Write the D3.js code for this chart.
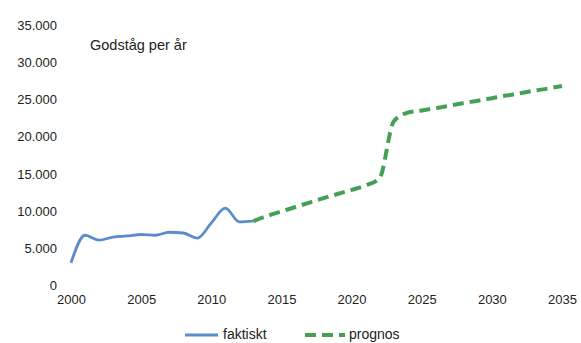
<!DOCTYPE html>
<html><head><meta charset="utf-8">
<script src="https://cdn.jsdelivr.net/npm/d3@7"></script>
<style>
html,body{margin:0;padding:0;background:#fff;}
svg text{font-family:"Liberation Sans",Arial,sans-serif;fill:#222;}
</style></head>
<body><svg id="c" width="581" height="343"></svg>
<script>
const title = "Godståg per år";
const actualYears = [2000,2001,2002,2003,2004,2005,2006,2007,2008,2009,2010,2011,2012,2013];
const actualValues = [3000,6700,6050,6450,6600,6800,6700,7100,7000,6300,8350,10350,8500,8600];
const forecastYears = [2013,2014,2015,2016,2017,2018,2019,2020,2021,2022,2023,2024,2025,2026,2027,2028,2029,2030,2031,2032,2033,2034,2035];
const forecastValues = [8600,9300,9900,10500,11100,11700,12250,12800,13400,14400,22000,23200,23500,23800,24150,24500,24800,25150,25500,25800,26150,26450,26800];
const yTicks = [0,5000,10000,15000,20000,25000,30000,35000];
const xTicks = [2000,2005,2010,2015,2020,2025,2030,2035];
const seriesNames = ["faktiskt","prognos"];
const colors = ["#5a8ccc","#44a055"];

const svg = d3.select("#c");
const x = d3.scaleLinear().domain([2000,2035]).range([71,562]);
const y = d3.scaleLinear().domain([0,35000]).range([285,25]);
const fmt = v => v===0 ? "0" : d3.format(",")(v).replace(/,/g,".");

const yAxis = svg.append("g").attr("transform","translate(57,0)")
  .call(d3.axisLeft(y).tickValues(yTicks).tickSize(0).tickPadding(0).tickFormat(fmt));
yAxis.select(".domain").remove();
yAxis.selectAll("text").attr("font-size","13px").attr("dy","0.35em");

const xAxis = svg.append("g").attr("transform","translate(0,295)")
  .call(d3.axisBottom(x).tickValues(xTicks).tickSize(0).tickPadding(0).tickFormat(d3.format("d")));
xAxis.select(".domain").remove();
xAxis.selectAll("text").attr("font-size","13px").attr("dy","0.71em");

svg.append("text").attr("x",90).attr("y",50).attr("font-size","14.5px").text(title);

const line = d3.line().x(d=>x(d[0])).y(d=>y(d[1])).curve(d3.curveMonotoneX);
svg.append("path").datum(d3.zip(actualYears,actualValues))
  .attr("d",line).attr("fill","none").attr("stroke",colors[0]).attr("stroke-width",2.8)
  .attr("stroke-linejoin","round");
svg.append("path").datum(d3.zip(forecastYears,forecastValues))
  .attr("d",line).attr("fill","none").attr("stroke",colors[1]).attr("stroke-width",4)
  .attr("stroke-dasharray","11,6");

// legend
const lg = svg.append("g");
lg.append("line").attr("x1",185).attr("x2",218).attr("y1",335).attr("y2",335)
  .attr("stroke",colors[0]).attr("stroke-width",2.8);
lg.append("text").attr("x",223).attr("y",339).attr("font-size","14px").text(seriesNames[0]);
lg.append("line").attr("x1",305).attr("x2",345).attr("y1",335).attr("y2",335)
  .attr("stroke",colors[1]).attr("stroke-width",4).attr("stroke-dasharray","11,6");
lg.append("text").attr("x",349).attr("y",339).attr("font-size","14px").text(seriesNames[1]);
</script></body></html>
